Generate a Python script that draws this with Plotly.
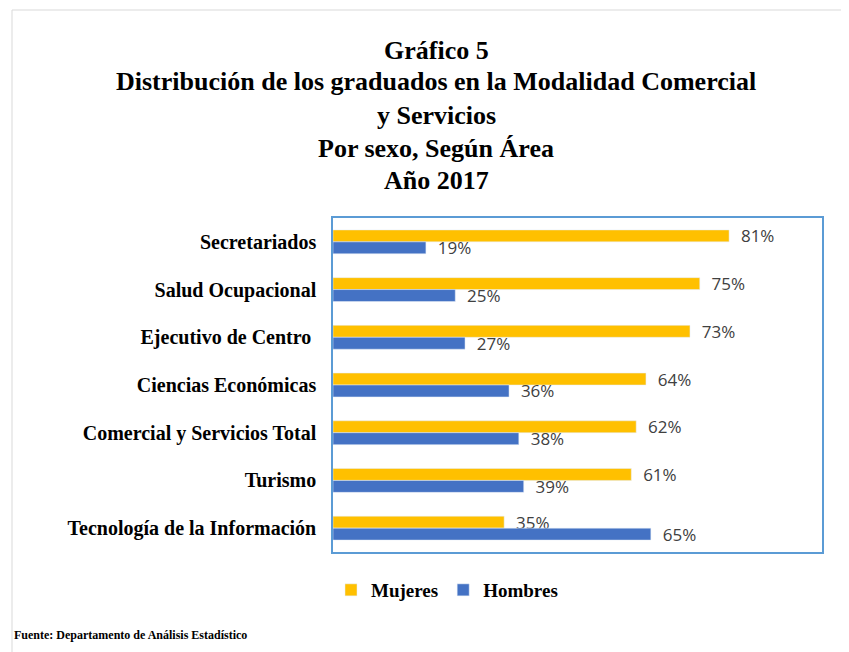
import plotly.graph_objects as go

categories = ["Secretariados", "Salud Ocupacional", "Ejecutivo de Centro\u00a0",
              "Ciencias Económicas", "Comercial y Servicios Total", "Turismo",
              "Tecnología de la Información"]
mujeres = [81, 75, 73, 64, 62, 61, 35]
hombres = [19, 25, 27, 36, 38, 39, 65]

title_lines = ["Gráfico 5",
               "Distribución de los graduados en la Modalidad Comercial",
               "y Servicios",
               "Por sexo, Según Área",
               "Año 2017"]
source_text = "Fuente: Departamento de Análisis Estadístico"

# page offset (body margin) compensation
OFF = 8
W, H = 849 - OFF, 652 - OFF
L, R, T, B = 333 - OFF, 27, 218 - OFF, 100
pw, ph = W - L - R, H - T - B

def px_x(x):
    return (x - OFF - L) / pw

def px_y(y):
    return (H - B - (y - OFF)) / ph

serif = "Liberation Serif, Times New Roman, serif"
label_font = dict(family="Open Sans, sans-serif", size=17, color="#404040")

fig = go.Figure()
fig.add_trace(go.Bar(
    y=categories, x=mujeres, name="Mujeres", orientation="h",
    marker=dict(color="#FFC000"),
    texttemplate="\u00a0\u00a0%{x}%", textposition="outside", constraintext="none",
    textfont=label_font, cliponaxis=False,
))
fig.add_trace(go.Bar(
    y=categories, x=hombres, name="Hombres", orientation="h",
    marker=dict(color="#4472C4"),
    texttemplate="\u00a0\u00a0%{x}%", textposition="outside", constraintext="none",
    textfont=label_font, cliponaxis=False,
))

annotations = []
title_centers = [50, 82, 116, 148, 180]
for line, yc in zip(title_lines, title_centers):
    annotations.append(dict(
        text=f"<b>{line}</b>", x=px_x(436), y=px_y(yc), xref="paper", yref="paper",
        xanchor="center", yanchor="middle", showarrow=False,
        font=dict(family=serif, size=26, color="#000000"),
    ))
annotations.append(dict(
    text=f"<b>{source_text}</b>", x=px_x(12), y=px_y(635), xref="paper", yref="paper",
    xanchor="left", yanchor="middle", showarrow=False,
    font=dict(family=serif, size=12, color="#000000"),
))

fig.update_layout(
    width=W, height=H,
    margin=dict(l=L, r=R, t=T, b=B),
    paper_bgcolor="white", plot_bgcolor="white",
    barmode="group", bargap=0.5, bargroupgap=0,
    showlegend=True,
    legend=dict(orientation="h", x=px_x(331), y=px_y(590), xanchor="left", yanchor="middle",
                font=dict(family=serif, size=19, color="#000000", weight="bold"),
                traceorder="normal", itemwidth=30),
    annotations=annotations,
    shapes=[dict(type="rect", xref="paper", yref="paper",
                 x0=px_x(12), x1=px_x(900), y0=px_y(700), y1=px_y(10),
                 line=dict(color="#D9D9D9", width=1), fillcolor="rgba(0,0,0,0)", layer="below")],
)
fig.update_xaxes(range=[0, 100], showgrid=False, zeroline=False, showticklabels=False,
                 showline=True, mirror=True, linecolor="#5B9BD5", linewidth=1.5, ticks="")
fig.update_yaxes(autorange="reversed", showgrid=False, zeroline=False,
                 showline=True, mirror=True, linecolor="#5B9BD5", linewidth=1.5,
                 ticks="outside", ticklen=11, tickcolor="rgba(0,0,0,0)",
                 tickfont=dict(family=serif, size=20, color="#000000", weight="bold"))

fig.write_html("out.html")
